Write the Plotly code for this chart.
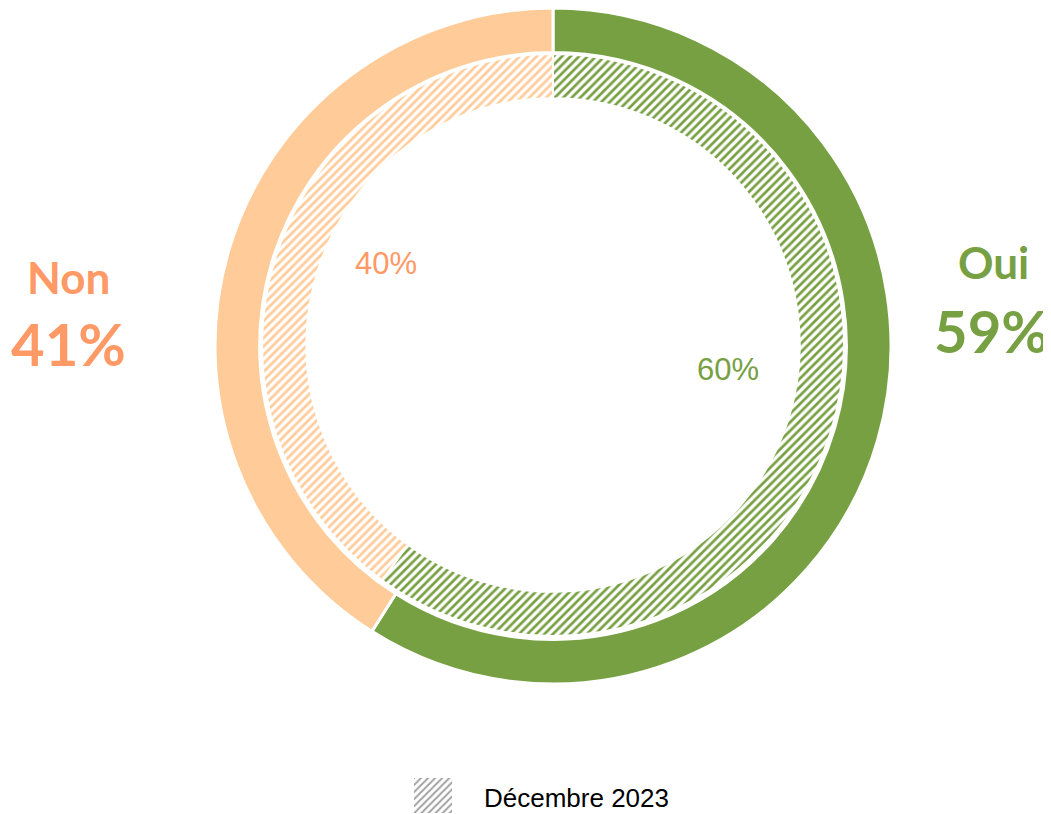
import plotly.graph_objects as go

# la page ajoute une marge de 8 px autour de la figure
OFF = 8
W, H = 1051 - OFF, 814 - OFF

labels = ["Oui", "Non"]
current_pct = [59, 41]       # anneau extérieur
december_pct = [60, 40]      # anneau intérieur (Décembre 2023)
legend_label = "Décembre 2023"

green = "#77A043"
peach = "#FFCB99"
orange_txt = "#FF9966"


def px_x(x):
    return min(max((x - OFF) / W, 0), 1)


def px_y(y):
    return min(max(1 - (y - OFF) / H, 0), 1)


fig = go.Figure()

# anneau extérieur
fig.add_trace(go.Pie(
    labels=labels,
    values=current_pct,
    sort=False,
    direction="clockwise",
    rotation=0,
    hole=0.868,
    marker=dict(colors=[green, peach], line=dict(color="white", width=3)),
    textinfo="none",
    hoverinfo="label+percent",
    showlegend=False,
    domain=dict(x=[px_x(214), px_x(892)], y=[px_y(684), px_y(8)]),
))

# anneau intérieur hachuré
fig.add_trace(go.Pie(
    labels=labels,
    values=december_pct,
    sort=False,
    direction="clockwise",
    rotation=0,
    hole=0.848,
    marker=dict(
        colors=["white", "white"],
        line=dict(color="white", width=2),
        pattern=dict(shape="/", fgcolor=[green, peach], bgcolor="white",
                     size=6, solidity=0.45),
    ),
    textinfo="none",
    hoverinfo="label+percent",
    showlegend=False,
    domain=dict(x=[px_x(262), px_x(844)], y=[px_y(636), px_y(54)]),
))

# pastille de légende
fig.add_trace(go.Bar(
    x=[0], y=[1], width=[1],
    marker=dict(color="white", line=dict(width=0),
                pattern=dict(shape="/", fgcolor="#444444", bgcolor="white",
                             size=5, solidity=0.4)),
    hoverinfo="skip",
    showlegend=False,
))

fig.update_layout(
    width=W, height=H,
    margin=dict(l=0, r=0, t=0, b=0),
    paper_bgcolor="white",
    plot_bgcolor="white",
    xaxis=dict(domain=[px_x(414), px_x(452)], range=[-0.5, 0.5], visible=False, fixedrange=True),
    yaxis=dict(domain=[px_y(813), px_y(778)], range=[0, 1], visible=False, fixedrange=True),
    font=dict(family="Arial, Liberation Sans"),
)

ann = [
    dict(x=px_x(68), y=px_y(277), text="<b>Non</b>", font=dict(size=44, color=orange_txt, family="Lato")),
    dict(x=px_x(68), y=px_y(343), text="<b>41%</b>", font=dict(size=58, color=orange_txt, family="Lato")),
    dict(x=px_x(993), y=px_y(262), text="<b>Oui</b>", font=dict(size=44, color=green, family="Lato")),
    dict(x=px_x(991), y=px_y(330), text="<b>59%</b>", font=dict(size=58, color=green, family="Lato")),
    dict(x=px_x(386), y=px_y(263), text=f"{december_pct[1]}%", font=dict(size=31, color=orange_txt)),
    dict(x=px_x(728), y=px_y(369), text=f"{december_pct[0]}%", font=dict(size=31, color=green)),
    dict(x=px_x(482), y=px_y(798), text=legend_label, xanchor="left", font=dict(size=26, color="#000000")),
]
for a in ann:
    a.setdefault("xanchor", "center")
    fig.add_annotation(xref="paper", yref="paper", yanchor="middle", showarrow=False, **a)

fig.write_html("out.html")
